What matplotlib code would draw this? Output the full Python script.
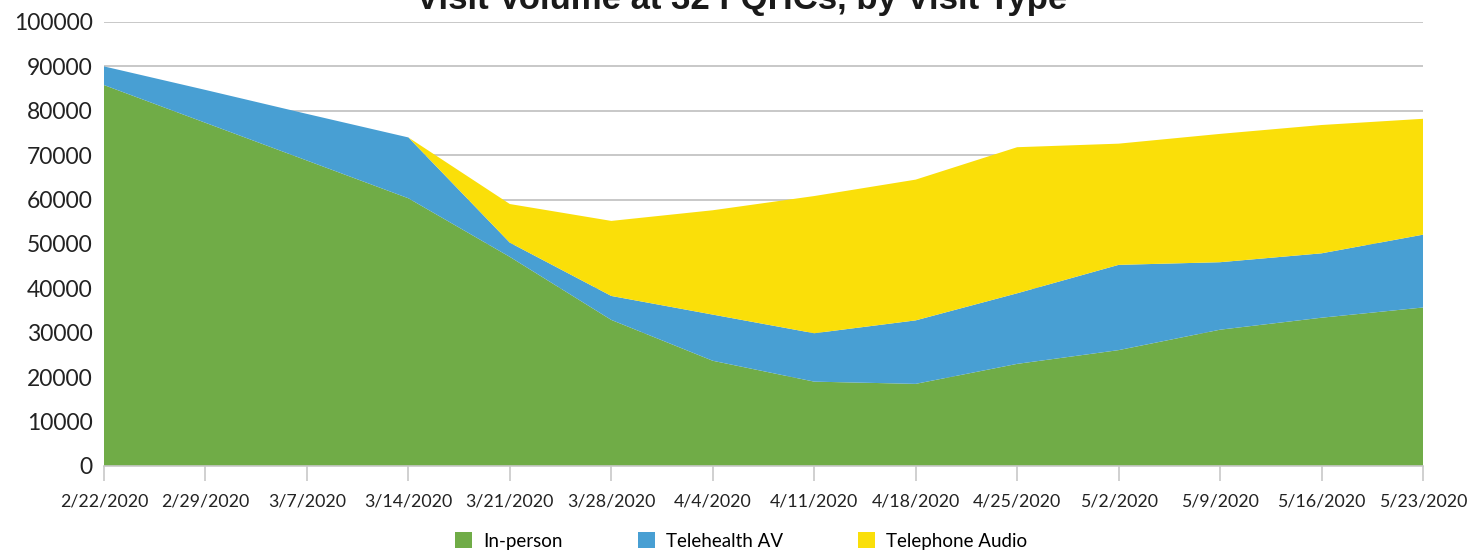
import matplotlib
matplotlib.use("Agg")
import matplotlib.pyplot as plt
from matplotlib.patches import Patch
import numpy as np

# weekly visit counts
dates = ["2/22/2020", "2/29/2020", "3/7/2020", "3/14/2020", "3/21/2020", "3/28/2020",
         "4/4/2020", "4/11/2020", "4/18/2020", "4/25/2020", "5/2/2020", "5/9/2020",
         "5/16/2020", "5/23/2020"]
in_person = [85800, 77300, 68800, 60300, 47100, 32900, 23700, 19000, 18500, 23000,
             26100, 30700, 33400, 35700]
telehealth_av = [4200, 7400, 10500, 13700, 3200, 5400, 10400, 10900, 14300, 15900,
                 19200, 15200, 14500, 16400]
telephone_audio = [0, 0, 0, 0, 8700, 16900, 23500, 30900, 31700, 32900,
                   27300, 28900, 28900, 26100]
series_names = ["In-person", "Telehealth AV", "Telephone Audio"]
colors = ["#70ac47", "#489fd3", "#fadf09"]
yticks = [0, 10000, 20000, 30000, 40000, 50000, 60000, 70000, 80000, 90000, 100000]

plt.rcParams["font.family"] = ["Lato", "DejaVu Sans"]

fig = plt.figure(figsize=(14.83, 5.5), dpi=100)
ax = fig.add_axes([104 / 1483, 1 - 466 / 550, 1319 / 1483, 444 / 550])

x = np.arange(len(dates))
ax.stackplot(x, in_person, telehealth_av, telephone_audio, colors=colors, lw=0, zorder=2)

ax.set_xlim(0, len(dates) - 1)
ax.set_ylim(0, 100000)
ax.set_yticks(yticks)
ax.set_yticklabels([str(v) for v in yticks], fontsize=16.5, color="#222222")
ax.set_xticks(x)
ax.set_xticklabels(dates, fontsize=12.8, color="#222222")
ax.tick_params(axis="y", length=0, pad=8)
ax.tick_params(axis="x", length=11, width=1.2, color="#c8c8c8", pad=9)
ax.yaxis.grid(True, color="#c8c8c8", lw=1.4, zorder=0)
ax.set_axisbelow(True)
for s in ["top", "right", "left"]:
    ax.spines[s].set_visible(False)
ax.spines["bottom"].set_color("#c8c8c8")
ax.spines["bottom"].set_linewidth(1.2)

fig.text(0.5, 1 - 9 / 550, "Visit Volume at 32 FQHCs, by Visit Type", ha="center",
         va="baseline", fontsize=25, fontweight="bold", family=["Liberation Sans", "DejaVu Sans"],
         color="#1a1a1a")

handles = [Patch(facecolor=c, edgecolor="none") for c in colors]
fig.legend(handles, series_names, loc="center", bbox_to_anchor=(0.5, 1 - 541 / 550),
           ncol=3, frameon=False, fontsize=13.5, handlelength=0.9, handleheight=0.9,
           handletextpad=0.6, columnspacing=4.0)

fig.savefig("out.png", dpi=100)
